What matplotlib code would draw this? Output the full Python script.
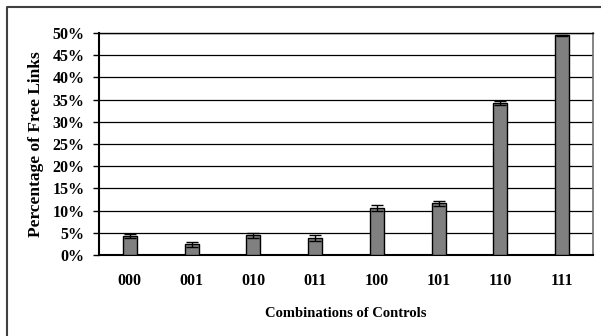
import matplotlib
matplotlib.use("Agg")
import matplotlib.pyplot as plt
import numpy as np
from matplotlib.lines import Line2D

categories = ["000", "001", "010", "011", "100", "101", "110", "111"]
values = [4.3, 2.4, 4.4, 3.8, 10.6, 11.6, 34.2, 49.5]
errors = [0.5, 0.5, 0.6, 0.6, 0.6, 0.6, 0.5, 0.1]
yticks = [0, 5, 10, 15, 20, 25, 30, 35, 40, 45, 50]

plt.rcParams['font.family'] = ['Liberation Serif', 'DejaVu Serif']
plt.rcParams['font.weight'] = 'bold'

fig = plt.figure(figsize=(6.01, 3.36), dpi=100)
W, H = 601, 336
ax = fig.add_axes([99 / W, 1 - 255 / H, (593 - 99) / W, (255 - 33) / H])

x = np.arange(len(categories))
ax.bar(x, values, width=0.23, color="#808080", edgecolor="black", linewidth=1.0, zorder=3,
       yerr=errors, error_kw=dict(ecolor="black", elinewidth=1.0, capsize=4, capthick=1.0, zorder=4))

ax.set_xlim(-0.5, len(categories) - 0.5)
ax.set_ylim(0, 50)
ax.set_yticks(yticks)
ax.set_yticklabels([f"{t}%" for t in yticks], fontsize=11.5, fontweight='bold')
ax.set_xticks(x)
ax.set_xticklabels(categories, fontsize=11.5, fontweight='bold')
ax.tick_params(axis='x', length=0, pad=13)
ax.tick_params(axis='y', length=4.5, width=1, direction='out', pad=6)
ax.yaxis.grid(True, color="black", linewidth=0.9, zorder=0)
ax.set_axisbelow(True)

ax.spines["top"].set_color("black")
ax.spines["top"].set_linewidth(1)
ax.spines["right"].set_color("#707070")
ax.spines["right"].set_linewidth(1.2)
ax.spines["left"].set_linewidth(1.5)
ax.spines["bottom"].set_linewidth(1.5)

ax.set_ylabel("Percentage of Free Links", fontsize=12.5, fontweight='bold', labelpad=6)
ax.set_xlabel("Combinations of Controls", fontsize=10.5, fontweight='bold', labelpad=13)

# outer frame: left and top edges only
fig.lines.append(Line2D([6.5 / W, 6.5 / W, 1.0], [0.0, 1 - 7 / H, 1 - 7 / H],
                        transform=fig.transFigure, color="#404040", linewidth=1.5))

fig.savefig("out.png", dpi=100)
